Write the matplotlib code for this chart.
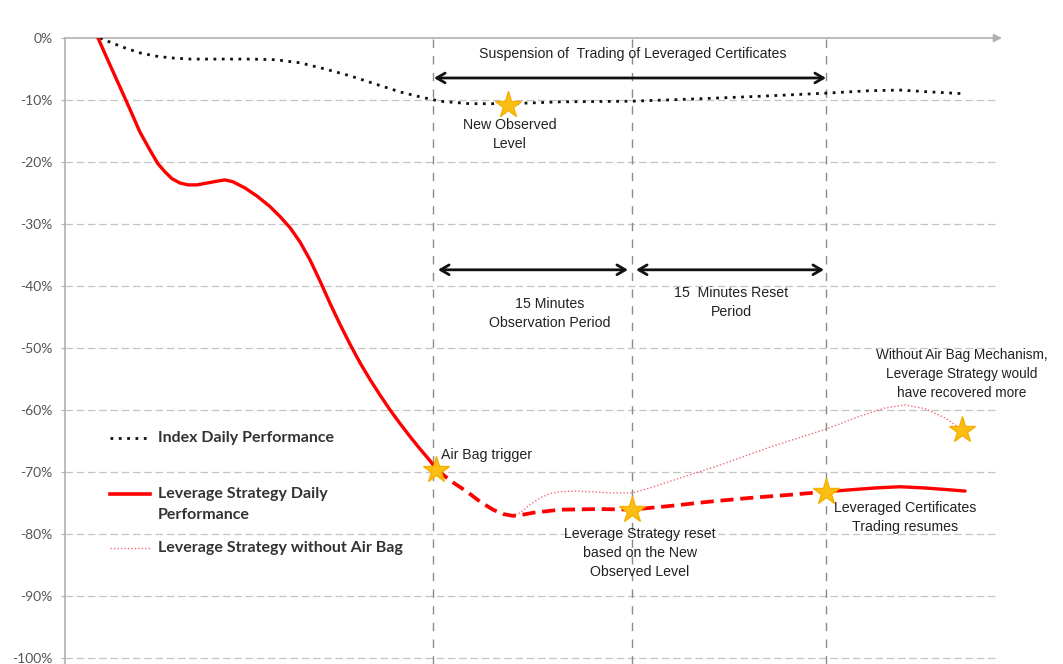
import matplotlib
matplotlib.use('Agg')
import matplotlib.pyplot as plt

# ---- data (x = time steps along the session, y = performance in %) ----
index_x = [35, 47, 60, 75, 90, 105, 125, 155, 185, 210, 235, 260, 285, 310, 335, 355,
           375, 405, 445, 495, 567, 635, 695, 761, 805, 835, 865, 900]
index_y = [0, -0.8, -1.6, -2.4, -2.9, -3.2, -3.4, -3.4, -3.4, -3.5, -4.0, -5.0, -6.1,
           -7.4, -8.7, -9.5, -10.2, -10.6, -10.6, -10.3, -10.2, -9.8, -9.4, -8.9, -8.5,
           -8.4, -8.7, -9.0]

lev_x = [33, 45, 60, 75, 85, 93, 100, 107, 115, 123, 132, 142, 152, 160, 168, 180, 192,
         205, 215, 225, 235, 245, 255, 265, 275, 285, 295, 305, 315, 325, 335, 345, 355,
         365, 372]
lev_y = [0, -4.35, -9.7, -15.2, -18.1, -20.3, -21.6, -22.7, -23.4, -23.7, -23.7, -23.4,
         -23.1, -22.9, -23.2, -24.2, -25.5, -27.2, -28.8, -30.6, -32.9, -35.8, -39.2,
         -42.8, -46.2, -49.4, -52.4, -55.1, -57.6, -60.0, -62.2, -64.3, -66.3, -68.2,
         -69.7]

airbag_x = [372, 387, 402, 415, 428, 438, 448, 458, 468, 495, 535, 567, 605, 645, 685,
            725, 761]
airbag_y = [-69.7, -71.6, -73.2, -74.8, -76.1, -76.8, -77.1, -76.9, -76.6, -76.1, -76.0,
            -76.1, -75.5, -74.8, -74.2, -73.7, -73.2]

resume_x = [761, 785, 810, 835, 860, 885, 900]
resume_y = [-73.2, -72.9, -72.6, -72.4, -72.6, -72.9, -73.1]

noair_x = [447, 455, 465, 475, 485, 495, 510, 525, 545, 567, 585, 615, 655, 705, 761,
           795, 820, 840, 860, 880, 897]
noair_y = [-77.1, -76.6, -75.3, -74.2, -73.5, -73.2, -73.1, -73.2, -73.4, -73.4, -72.6,
           -71.0, -68.9, -66.0, -63.1, -61.0, -59.7, -59.2, -59.8, -61.3, -63.2]

star_x = [443, 371, 567, 761, 897]
star_y = [-10.8, -69.7, -76.1, -73.2, -63.2]

phase_x = [368, 567, 761]

yticks = [0, -10, -20, -30, -40, -50, -60, -70, -80, -90, -100]
ytick_labels = ['0%', '-10%', '-20%', '-30%', '-40%', '-50%', '-60%', '-70%', '-80%',
                '-90%', '-100%']

legend_labels = ['Index Daily Performance', 'Leverage Strategy Daily\nPerformance',
                 'Leverage Strategy without Air Bag']

# ---- figure ----
fig = plt.figure(figsize=(10.63, 6.64), dpi=100)
ax = fig.add_axes([65 / 1063, 0.0, 933 / 1063, 1 - 38 / 664])
ax.set_xlim(0, 933)
ax.set_ylim(-101, 0)

for s in ['top', 'right', 'bottom']:
    ax.spines[s].set_visible(False)
ax.spines['left'].set_color('#b0b0b0')
ax.spines['left'].set_linewidth(1.2)
ax.set_xticks([])
ax.set_yticks(yticks)
ax.set_yticklabels(ytick_labels, fontfamily='Lato', fontsize=10, color='#555555')
ax.tick_params(axis='y', length=3, color='#b0b0b0', pad=6)

# gridlines
for t in yticks[1:]:
    ax.axhline(t, color='#c4c4c4', lw=0.9, dashes=(6, 3), zorder=1)
# top axis with arrow
ax.annotate('', xy=(937, 0), xytext=(0, 0), xycoords='data',
            arrowprops=dict(arrowstyle='-|>', color='#b0b0b0', lw=1.2,
                            mutation_scale=12, shrinkA=0, shrinkB=0),
            annotation_clip=False)

# phase lines
for px in phase_x:
    ax.axvline(px, color='#8a8a8a', lw=1.0, dashes=(6, 6), zorder=1)

# series
ax.plot(index_x, index_y, color='#111111', lw=2.0, dashes=(1, 2), zorder=3)
ax.plot(lev_x, lev_y, color='#ff0000', lw=2.4, zorder=3, solid_capstyle='round',
        solid_joinstyle='round')
ax.plot(airbag_x, airbag_y, color='#ff0000', lw=2.7, dashes=(3.5, 1.8), zorder=3)
ax.plot(resume_x, resume_y, color='#ff0000', lw=2.4, zorder=3, solid_capstyle='round',
        solid_joinstyle='round')
ax.plot(noair_x, noair_y, color='#f06a7a', lw=1.0, dashes=(1, 1.5), zorder=2)

ax.plot(star_x, star_y, linestyle='none', marker='*', markersize=20,
        color='#fbbf14', markeredgecolor='#f5b000', zorder=5, clip_on=False)

# arrows
arrow_kw = dict(arrowstyle='<->,head_length=0.6,head_width=0.35', color='#111111',
                lw=2.0, shrinkA=0, shrinkB=0)
ax.annotate('', xy=(761, -6.45), xytext=(369, -6.45), arrowprops=arrow_kw)
ax.annotate('', xy=(563, -37.4), xytext=(373, -37.4), arrowprops=arrow_kw)
ax.annotate('', xy=(759, -37.4), xytext=(571, -37.4), arrowprops=arrow_kw)

tkw = dict(fontfamily='Liberation Sans', fontsize=10.2, color='#222222',
           ha='center', va='center', linespacing=1.45)
ax.text(568, -2.6, 'Suspension of  Trading of Leveraged Certificates', **tkw)
ax.text(485, -44.5, '15 Minutes\nObservation Period', **tkw)
ax.text(666, -42.7, '15  Minutes Reset\nPeriod', **tkw)
ax.text(445, -15.6, 'New Observed\nLevel', **tkw)
ax.text(575, -83.1, 'Leverage Strategy reset\nbased on the New\nObserved Level', **tkw)
ax.text(840, -77.3, 'Leveraged Certificates\nTrading resumes', **tkw)
ax.text(897, -54.2, 'Without Air Bag Mechanism,\nLeverage Strategy would\nhave recovered more',
        fontfamily='Liberation Sans', fontsize=9.8, color='#222222', ha='center',
        va='center', linespacing=1.45)
tkw2 = dict(tkw)
tkw2['ha'] = 'left'
ax.text(376, -67.3, 'Air Bag trigger', **tkw2)

# legend (drawn manually inside the plot)
lkw = dict(fontfamily='Lato', fontweight='bold', fontsize=11.5, color='#333333',
           ha='left', va='center', linespacing=1.6)
ax.plot([45, 85], [-64.5, -64.5], color='#111111', lw=2.0, dashes=(1, 2))
ax.text(93, -64.5, legend_labels[0], **lkw)
ax.plot([45, 85], [-73.5, -73.5], color='#ff0000', lw=2.6)
ax.text(93, -75.3, legend_labels[1], **lkw)
ax.plot([45, 85], [-82.3, -82.3], color='#f06a7a', lw=1.0, dashes=(1, 1.5))
ax.text(93, -82.3, legend_labels[2], **lkw)

fig.savefig('out.png', dpi=100)
